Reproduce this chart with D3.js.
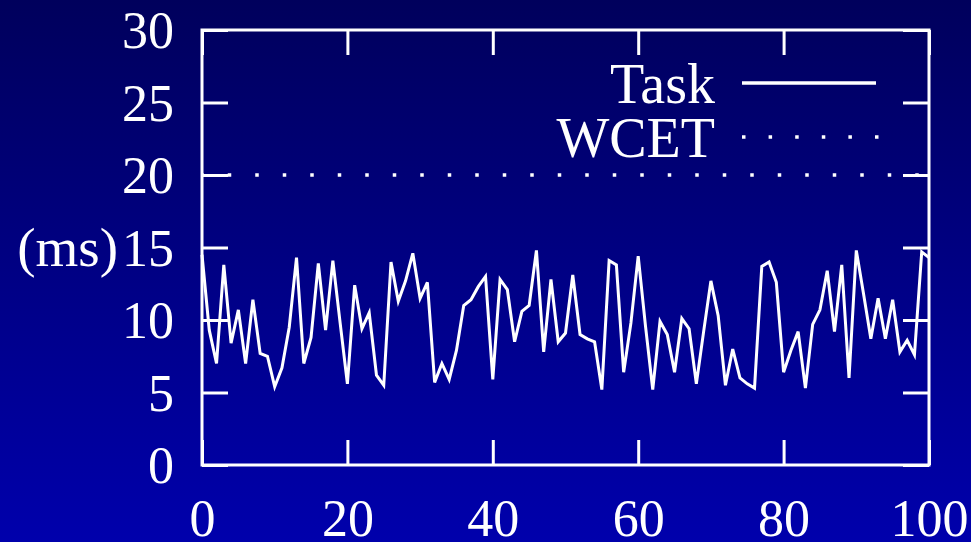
<!DOCTYPE html>
<html>
<head>
<meta charset="utf-8">
<script src="https://cdn.jsdelivr.net/npm/d3@7/dist/d3.min.js"></script>
<style>
  html, body { margin: 0; padding: 0; background: #000080; overflow: hidden; }
  #chart { width: 971px; height: 542px; }
</style>
</head>
<body>
<div id="chart"></div>
<script>
// execution time of each job (ms), job index = position in the array
const taskTimes = [
  14.5, 9.3, 7.0, 13.8, 8.4, 10.7, 7.0, 11.4, 7.7, 7.5,
  5.4, 6.7, 9.5, 14.3, 7.0, 8.8, 13.9, 9.3, 14.1, 9.8,
  5.6, 12.4, 9.4, 10.5, 6.2, 5.5, 14.0, 11.3, 12.7, 14.6,
  11.5, 12.6, 5.7, 7.0, 5.9, 7.9, 11.0, 11.4, 12.3, 13.0,
  5.9, 12.8, 12.1, 8.5, 10.6, 11.0, 14.8, 7.8, 12.8, 8.5,
  9.1, 13.1, 9.0, 8.7, 8.5, 5.2, 14.1, 13.8, 6.4, 9.8,
  14.4, 9.6, 5.2, 9.9, 9.0, 6.4, 10.1, 9.4, 5.6, 9.2,
  12.7, 10.3, 5.5, 8.0, 6.0, 5.6, 5.3, 13.7, 14.0, 12.6,
  6.4, 7.9, 9.2, 5.3, 9.7, 10.7, 13.4, 9.2, 13.8, 6.0,
  14.8, 11.8, 8.7, 11.5, 8.7, 11.4, 7.8, 8.6, 7.6, 14.7,
  14.3
];
const wcet = 20;
const legendLabels = ["Task", "WCET"];
const xTicks = [0, 20, 40, 60, 80, 100];
const yTicks = [0, 5, 10, 15, 20, 25, 30];
const xDomain = [0, 100];
const yDomain = [0, 30];
const yLabel = "(ms)";

function drawChart(params) {
  const container = d3.select(params.container);

  // metrics
  const width = 971;
  const height = 542;
  const marginTop = 30;
  const marginBottom = 77;
  const marginLeft = 202;
  const marginRight = 42;
  const chartWidth = width - marginLeft - marginRight;
  const chartHeight = height - marginTop - marginBottom;
  const font = "'Liberation Serif', 'DejaVu Serif', serif";

  // scales and axes
  const xScale = d3.scaleLinear().domain(xDomain).range([0, chartWidth]);
  const yScale = d3.scaleLinear().domain(yDomain).range([chartHeight, 0]);

  const xAxis = d3.axisBottom(xScale).tickValues(xTicks).tickSize(-25).tickFormat(d3.format("d"));
  const yAxis = d3.axisLeft(yScale).tickValues(yTicks).tickSize(-26).tickPadding(28).tickFormat(d3.format("d"));
  const xAxisTop = d3.axisTop(xScale).tickValues(xTicks).tickSize(-25).tickFormat("");
  const yAxisRight = d3.axisRight(yScale).tickValues(yTicks).tickSize(-26).tickFormat("");

  const svg = container.append("svg")
    .attr("width", width)
    .attr("height", height);

  // background gradient
  const grad = svg.append("defs").append("linearGradient")
    .attr("id", "bg")
    .attr("x1", 0).attr("y1", 0).attr("x2", 0).attr("y2", 1);
  grad.append("stop").attr("offset", "0%").attr("stop-color", "#00005c");
  grad.append("stop").attr("offset", "100%").attr("stop-color", "#0000ac");

  svg.append("rect")
    .attr("width", width)
    .attr("height", height)
    .attr("fill", "url(#bg)");

  const g = svg.append("g")
    .attr("transform", `translate(${marginLeft}, ${marginTop})`);

  // axes, ticks drawn inwards on all four sides
  const styleAxis = (sel) => {
    sel.attr("color", "#fff")
      .attr("font-family", font)
      .attr("font-size", 52);
    sel.select(".domain").remove();
    sel.selectAll(".tick line").attr("stroke-width", 3);
    sel.selectAll(".tick text").attr("fill", "#fff");
  };

  g.append("g")
    .attr("transform", `translate(0, ${chartHeight})`)
    .call(xAxis)
    .call(styleAxis)
    .selectAll(".tick text")
    .attr("y", 71)
    .attr("dy", null);

  g.append("g")
    .call(yAxis)
    .call(styleAxis)
    .selectAll(".tick text")
    .attr("dy", "0.34em");

  g.append("g").call(xAxisTop).call(styleAxis);
  g.append("g")
    .attr("transform", `translate(${chartWidth}, 0)`)
    .call(yAxisRight)
    .call(styleAxis);

  // frame
  g.append("rect")
    .attr("width", chartWidth)
    .attr("height", chartHeight)
    .attr("fill", "none")
    .attr("stroke", "#fff")
    .attr("stroke-width", 3);

  // y label
  g.append("text")
    .attr("x", -84)
    .attr("y", yScale(15))
    .attr("dy", "0.34em")
    .attr("text-anchor", "end")
    .attr("font-family", font)
    .attr("font-size", 55)
    .attr("fill", "#fff")
    .text(yLabel);

  // WCET level, dotted
  g.append("line")
    .attr("x1", xScale(xDomain[0]))
    .attr("x2", xScale(xDomain[1]))
    .attr("y1", yScale(wcet))
    .attr("y2", yScale(wcet))
    .attr("stroke", "#fff")
    .attr("stroke-width", 3.5)
    .attr("stroke-dasharray", "3.5 24")
    .attr("stroke-dashoffset", 1.75);

  // task line
  const line = d3.line()
    .x((d, i) => xScale(i))
    .y((d) => yScale(d));

  g.append("path")
    .datum(taskTimes)
    .attr("d", line)
    .attr("fill", "none")
    .attr("stroke", "#fff")
    .attr("stroke-width", 3)
    .attr("stroke-linejoin", "miter");

  // legend
  const legend = g.append("g")
    .selectAll("g")
    .data(legendLabels)
    .join("g")
    .attr("transform", (d, i) => `translate(0, ${53 + i * 54})`);

  legend.append("text")
    .attr("x", 513)
    .attr("y", 19.5)
    .attr("text-anchor", "end")
    .attr("font-family", font)
    .attr("font-size", 56)
    .attr("fill", "#fff")
    .text((d) => d);

  legend.append("line")
    .attr("x1", 540)
    .attr("x2", (d, i) => (i === 0 ? 674 : 676.5))
    .attr("stroke", "#fff")
    .attr("stroke-width", 3.5)
    .attr("stroke-dasharray", (d, i) => (i === 0 ? null : "3.5 23.1"));
}

drawChart({ container: "#chart" });
</script>
</body>
</html>
